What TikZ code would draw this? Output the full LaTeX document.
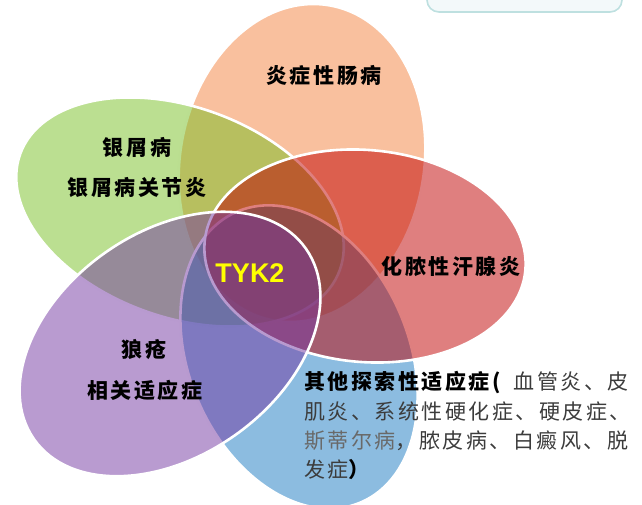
\documentclass[tikz,border=0pt]{standalone}
\usepackage{fontspec}
\newfontfamily\cjk{Noto Sans CJK SC}[LetterSpace=12]
\newfontfamily\latf{Liberation Sans}
\definecolor{cOr}{RGB}{243,129,61}
\definecolor{cGr}{RGB}{119,191,35}
\definecolor{cBl}{RGB}{25,121,193}
\definecolor{cRd}{RGB}{191,0,0}
\definecolor{cPu}{RGB}{115,55,161}
\definecolor{tgA}{RGB}{60,60,60}
\definecolor{tgB}{RGB}{105,105,105}
\definecolor{boxfill}{RGB}{243,249,250}
\definecolor{boxline}{RGB}{190,224,224}
\begin{document}
\begin{tikzpicture}[x=1pt,y=-1pt,
  petal/.style={fill=#1, fill opacity=0.5, draw=white, line width=2.6pt},
  lbl/.style={inner sep=0pt, font=\cjk\bfseries\fontsize{21}{24}\selectfont},
  body/.style={inner sep=0pt, anchor=west, font=\cjk\fontsize{21}{24}\selectfont, text=tgA},
  tyk/.style={inner sep=0pt, text={rgb,255:red,255;green,255;blue,0}, font=\latf\bfseries\fontsize{27}{30}\selectfont},
  topbox/.style={fill=boxfill, draw=boxline, line width=1.6pt, rounded corners=12pt}]
\useasboundingbox (0,0) rectangle (642,505);
% partial box at top right
\draw[topbox] (427,-30) rectangle (622,12);
% petals
\draw[petal=cOr, rotate around={80:(302,163)}] (302,163) ellipse [x radius=160, y radius=122];
\draw[petal=cGr, rotate around={-20:(180,212)}] (180,212) ellipse [x radius=170, y radius=105];
\draw[petal=cBl, rotate around={-67:(299,357)}] (299,357) ellipse [x radius=158, y radius=110];
\draw[petal=cRd, rotate around={-5:(365,256)}] (365,256) ellipse [x radius=161, y radius=106];
\draw[petal=cPu, rotate around={35:(170,344)}] (170,344) ellipse [x radius=166, y radius=112];
% labels
\node[lbl] (ibd) at (324,75) {炎症性肠病};
\node[lbl] (pso) at (137,147) {银屑病};
\node[lbl] (psa) at (137,187) {银屑病关节炎};
\node[lbl] (hs) at (451,267) {化脓性汗腺炎};
\node[lbl] (lup) at (144,350) {狼疮};
\node[lbl] (lupr) at (145,390) {相关适应症};
\node[tyk] (tyk) at (250,273) {TYK2};
% other indications
\node[body] (o1) at (304,383) {\textcolor{black}{\bfseries 其他探索性适应症(}\hspace{13pt}血管炎、皮};
\node[body] (o2) at (304,412) {肌炎、系统性硬化症、硬皮症、};
\node[body] (o3) at (304,441) {\textcolor{tgB}{斯蒂尔病}，脓皮病、白癜风、脱};
\node[body] (o4) at (304,470) {发症\textcolor{black}{\bfseries ）}};
\end{tikzpicture}
\end{document}
